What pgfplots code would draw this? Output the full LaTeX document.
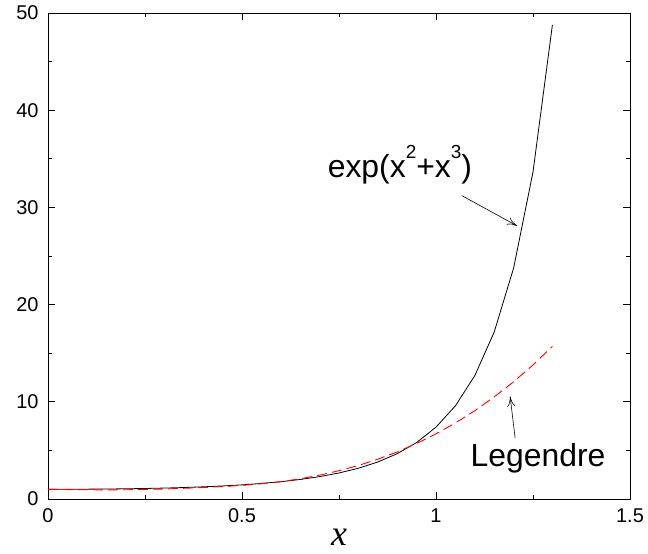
\documentclass[border=0pt]{standalone}
\usepackage{fontspec}
\setmainfont{Liberation Sans}
\newfontfamily\serifx{Liberation Serif}
\usepackage{pgfplots}
\pgfplotsset{compat=1.18}
\usetikzlibrary{arrows.meta}

\pgfplotstableread{
x     f
0.00  1.0000
0.05  1.0026
0.10  1.0111
0.15  1.0262
0.20  1.0492
0.25  1.0813
0.30  1.1241
0.35  1.1798
0.40  1.2511
0.45  1.3413
0.50  1.4550
0.55  1.5982
0.60  1.7789
0.65  2.0080
0.70  2.3002
0.75  2.6761
0.80  3.1645
0.85  3.8062
0.90  4.6599
0.95  5.8120
1.00  7.3891
1.05  9.5845
1.10  12.693
1.15  17.174
1.20  23.758
1.25  33.640
1.30  48.772
}\exact

\pgfplotstableread{
x     p
0.00  1.00
0.05  0.97
0.10  0.95
0.15  0.94
0.20  0.95
0.25  0.98
0.30  1.03
0.35  1.10
0.40  1.18
0.45  1.28
0.50  1.40
0.55  1.57
0.60  1.78
0.65  2.08
0.70  2.45
0.75  2.91
0.80  3.45
0.85  4.09
0.90  4.84
0.95  5.71
1.00  6.70
1.05  7.82
1.10  9.08
1.15  10.50
1.20  12.06
1.25  13.79
1.30  15.70
}\legendre

\newcommand\upidx[1]{\raisebox{0.62em}{\fontsize{19}{19}\selectfont #1}}

\begin{document}
\begin{tikzpicture}
\begin{axis}[
  scale only axis, width=582bp, height=486bp,
  xmin=0, xmax=1.5, ymin=0, ymax=50,
  xtick={0,0.5,1,1.5}, ytick={0,10,...,50},
  minor x tick num=1, minor y tick num=1,
  tick align=inside, tickpos=both,
  major tick length=7bp, minor tick length=4bp,
  tick style={black, line width=0.6bp},
  axis line style={line width=0.8bp},
  /pgf/number format/assume math mode=true,
  ticklabel style={font=\fontsize{20}{23}\selectfont},
  xticklabel style={yshift=-6bp},
  yticklabel style={xshift=-6bp},
  xlabel={\serifx\itshape x},
  xlabel style={font=\fontsize{36}{38}\selectfont, yshift=0bp},
  clip=false,
]
\addplot[black, line width=0.8bp] table[x=x, y=f] {\exact};
\addplot[red, line width=0.9bp, dash pattern=on 10bp off 5bp] table[x=x, y=p] {\legendre};

\node[font=\fontsize{32}{35}\selectfont, anchor=center] at (axis cs:0.907,34.4) {exp(x\upidx{2}+x\upidx{3})};
\draw[-{To[length=10bp,width=8bp]}, line width=0.6bp] (axis cs:1.067,31.2) -- (axis cs:1.209,28.1);
\node[font=\fontsize{32}{35}\selectfont, anchor=center] at (axis cs:1.263,4.2) {Legendre};
\draw[-{To[length=10bp,width=8bp]}, line width=0.6bp] (axis cs:1.204,6.25) -- (axis cs:1.191,10.55);
\end{axis}
\pgfresetboundingbox
\path ([shift={(-48bp,-55bp)}]current axis.south west) rectangle ([shift={(18bp,13bp)}]current axis.north east);
\end{tikzpicture}
\end{document}
